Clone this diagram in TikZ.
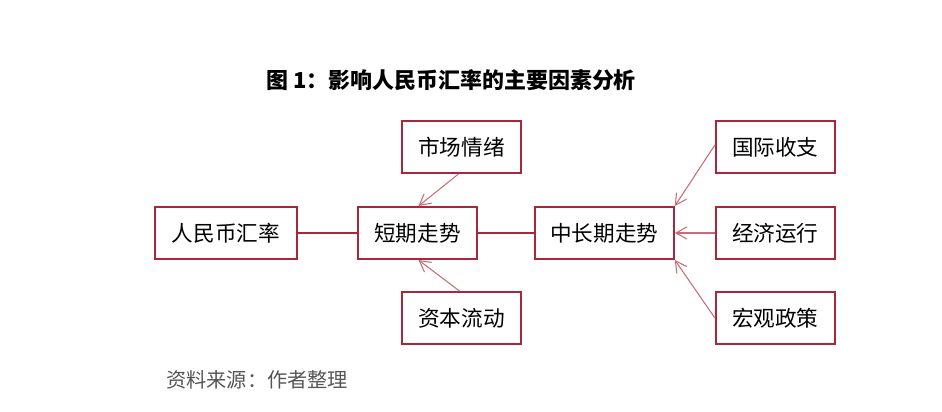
\documentclass[tikz,border=0pt]{standalone}
\usepackage{fontspec}
\setmainfont{Noto Sans CJK SC}
\usetikzlibrary{positioning, arrows.meta}
\definecolor{boxred}{HTML}{A8283A}
\definecolor{linkred}{HTML}{C46C78}
\definecolor{notegray}{HTML}{555555}

\begin{document}
\begin{tikzpicture}[
  node distance=0.64cm and 1.2cm,
  factorBox/.style={draw=boxred, line width=1.1pt, minimum width=2.38cm, minimum height=1.04cm, align=center, font=\fontsize{12.3}{14}\selectfont, inner sep=2pt},
  link/.style={draw=boxred, line width=0.9pt},
  arrow/.style={-{Straight Barb[length=2.2mm, width=2.4mm]}, draw=linkred, line width=0.6pt},
  titleText/.style={font=\fontsize{12.5}{15}\selectfont\bfseries},
  noteText/.style={font=\fontsize{11.5}{13}\selectfont, text=notegray, anchor=west}
]

\useasboundingbox (0,0) rectangle (18.84,-8.24);

% Title
\node[titleText] (title) at (9.02,-1.6) {图 1：影响人民币汇率的主要因素分析};

% Main chain
\node[factorBox, minimum width=2.84cm] (rate) at (4.52,-4.66) {人民币汇率};
\node[factorBox, right=1.18cm of rate] (short) {短期走势};
\node[factorBox, minimum width=2.78cm, right=1.12cm of short] (long) {中长期走势};

% Short-term factors
\node[factorBox, above=0.64cm of short, xshift=0.88cm] (mood) {市场情绪};
\node[factorBox, below=0.62cm of short, xshift=0.88cm] (capital) {资本流动};

% Long-term factors
\node[factorBox, right=0.8cm of long] (economy) {经济运行};
\node[factorBox, above=0.64cm of economy] (balance) {国际收支};
\node[factorBox, below=0.62cm of economy] (policy) {宏观政策};

% Source note
\node[noteText] (note) at (3.2,-7.6) {资料来源：作者整理};

% Connectors
\draw[link] (rate.east) -- (short.west);
\draw[link] (short.east) -- (long.west);

\draw[arrow] ([xshift=-0.06cm]mood.south) -- ([xshift=0.02cm]short.north);
\draw[arrow] ([xshift=-0.04cm]capital.north) -- ([xshift=0.02cm]short.south);

\draw[arrow] ([yshift=0.04cm]balance.west) -- (long.north east);
\draw[arrow] (economy.west) -- (long.east);
\draw[arrow] (policy.west) -- (long.south east);

\end{tikzpicture}
\end{document}
